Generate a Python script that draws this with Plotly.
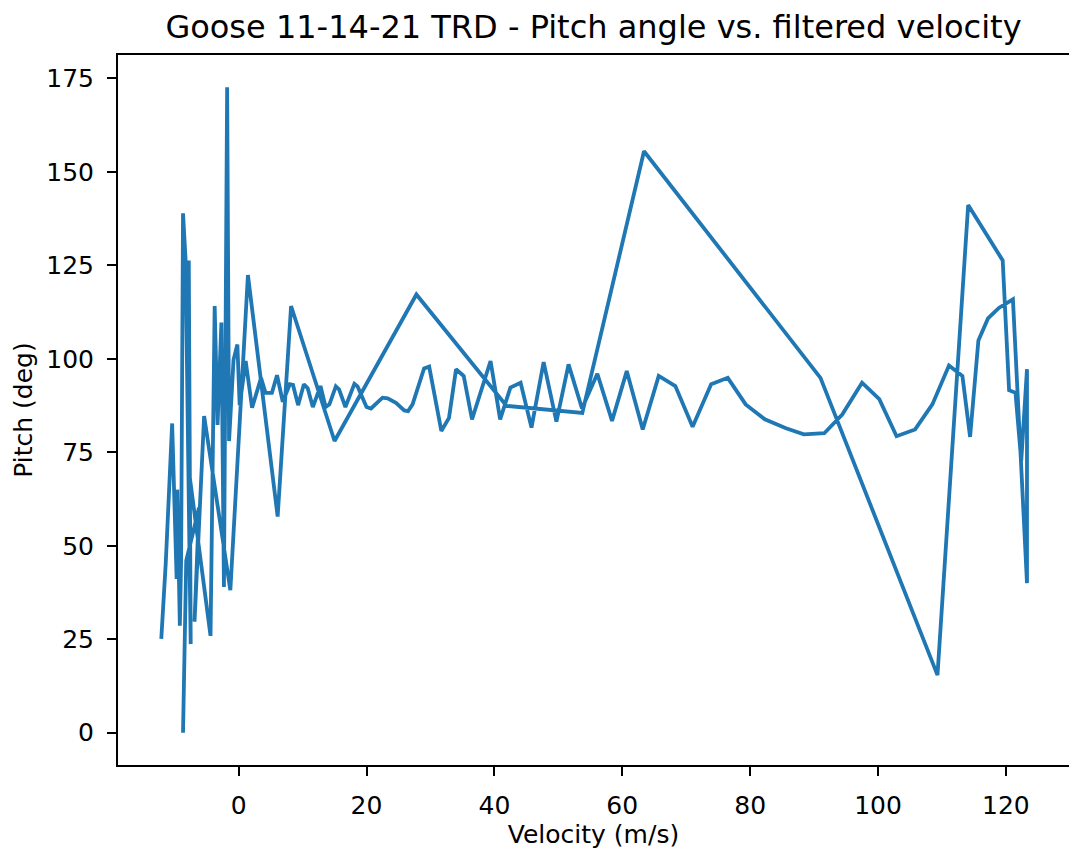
import plotly.graph_objects as go

# Velocity (m/s) and pitch (deg), in recorded order
velocity = [
    -12.1, -11.4, -10.4, -9.7, -9.6, -9.2, -9.0, -8.7, -8.3, -7.5, -7.8, -7.8,
    -4.4, -3.75, -3.3, -2.7, -2.3, -1.8, -1.5, -0.8, -0.2, 0.16,
    1.1, 2.1, 3.5, 4.2, 5.2, 6.0, 6.9, 8.0, 8.5, 9.3, 10.2, 10.8, 11.6, 12.8,
    13.6, 14.2, 15.2, 15.7, 16.7, 18.1, 18.6, 20.0, 20.7, 22.5, 23.3, 24.6,
    25.9, 26.5, 27.2, 29.0, 29.8, 31.7, 32.9, 34.0, 35.2, 36.5, 39.4, 40.9,
    42.5, 44.1, 45.8, 47.7, 49.7, 51.6, 53.7, 56.1, 58.4, 60.7, 63.2, 65.7,
    68.3, 71.0, 73.9, 76.5, 79.3, 82.3, 85.6, 88.4, 91.6, 94.4, 97.5, 100.2,
    102.9, 105.8, 108.5, 111.1, 113.2, 114.4, 115.7, 117.2, 118.9, 121.1,
    123.3, 123.3, 122.4, 121.5,
    120.5, 119.5, 114.1, 109.3, 91.0, 63.4, 53.75, 41.9, 27.8, 15.0, 8.2, 6.1,
    1.45, -1.3, -5.4, -6.9, -6.2, -8.2, -8.7, -8.7,
]
pitch = [
    25.1, 45.4, 82.7, 41.1, 65.0, 28.6, 46.0, 138.9, 126.6, 23.7, 126.3, 70.4,
    25.9, 114.1, 82.3, 109.7, 39.0, 172.6, 78.0, 99.7, 103.8, 87.6,
    99.4, 86.9, 94.9, 90.9, 90.9, 95.6, 88.5, 93.2, 93.0, 87.6, 93.2, 92.1,
    87.1, 92.7, 87.1, 87.8, 92.6, 91.8, 87.1, 93.3, 92.6, 87.1, 86.7, 89.6,
    89.4, 88.2, 86.2, 86.0, 87.8, 97.4, 97.9, 80.7, 84.2, 97.2, 95.4, 83.8,
    99.4, 83.8, 92.3, 93.6, 81.6, 99.1, 83.2, 98.5, 86.7, 96.0, 83.4, 96.7,
    81.1, 95.4, 92.7, 81.8, 93.2, 94.9, 87.8, 83.8, 81.4, 79.8, 80.1, 85.1,
    93.6, 89.2, 79.3, 81.1, 87.8, 98.2, 95.4, 79.1, 104.9, 110.8, 113.6,
    115.9, 40.0, 97.2, 72.7, 90.9,
    91.6, 126.3, 141.1, 15.4, 94.9, 155.5, 85.5, 87.4, 117.2, 78.0, 114.1,
    57.8,
    122.4, 38.1, 84.7, 29.7, 60.2, 46.0, 6.9, 0.0,
]

x_ticks = [0, 20, 40, 60, 80, 100, 120]
y_ticks = [0, 25, 50, 75, 100, 125, 150, 175]

title_text = "Goose 11-14-21 TRD - Pitch angle vs. filtered velocity"
x_title = "Velocity (m/s)"
y_title = "Pitch (deg)"

FONT = "DejaVu Sans"

fig = go.Figure()
fig.add_trace(go.Scatter(
    x=velocity, y=pitch, mode="lines",
    line=dict(color="#1f77b4", width=3.8),
    showlegend=False, hoverinfo="skip",
))

axis_common = dict(
    showgrid=False, zeroline=False, showline=True, linecolor="black",
    linewidth=2, ticks="outside", ticklen=9, tickwidth=2,
    tickcolor="black", tickfont=dict(family=FONT, size=25, color="black"),
    automargin=False, ticklabelstandoff=8,
)

fig.update_layout(
    width=1070, height=850,
    margin=dict(l=118, r=1, t=55, b=85),
    paper_bgcolor="white", plot_bgcolor="white",
    font=dict(family=FONT, color="black"),
    title=dict(text=title_text, x=0.5, xref="paper", xanchor="center",
               y=1 - 27 / 850, yref="container", yanchor="middle",
               font=dict(family=FONT, size=32, color="black")),
    xaxis=dict(range=[-18.87, 129.87], tickvals=x_ticks,
               ticktext=[str(t) for t in x_ticks], mirror=True,
               title=dict(text=x_title, standoff=3,
                          font=dict(family=FONT, size=25, color="black")),
               **axis_common),
    yaxis=dict(range=[-8.63, 181.23], tickvals=y_ticks,
               ticktext=[str(t) for t in y_ticks], mirror=False,
               title=dict(text=y_title, standoff=7,
                          font=dict(family=FONT, size=25, color="black")),
               **axis_common),
)

fig.write_html("out.html")
